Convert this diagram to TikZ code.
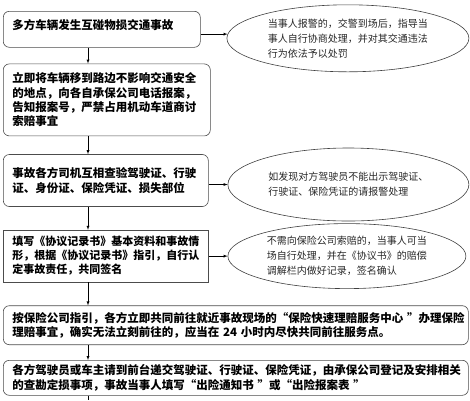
\documentclass[tikz,border=0pt]{standalone}
\usepackage{fontspec}
\newfontfamily\cjk{Noto Sans CJK SC}
\usepackage{tikz}
\usetikzlibrary{positioning,shapes.geometric}
\usetikzlibrary{arrows.meta}

\begin{document}
\begin{tikzpicture}[
	stepbox/.style = {draw = black!70, line width = 0.6pt, rounded corners = 6pt, align = left,
		inner xsep = 9pt, inner ysep = 4pt, anchor = north west,
		font = \cjk\bfseries\fontsize{11.5}{14.3}\selectfont},
	notebox/.style = {draw = black!75, line width = 0.6pt, ellipse, align = left, inner sep = 0pt,
		text width = 160pt, text = black!85, font = \cjk\fontsize{10}{15}\selectfont},
	]
	\useasboundingbox (0,0) rectangle (470pt,-400pt);
	\coordinate (spine) at (88pt,0);
	\coordinate (exit) at (88pt,-400pt);

	% left column
	\node[stepbox, text width = 179pt, minimum height = 36pt, text depth = 10pt] (b1) at (3pt,-11pt)
		{多方车辆发生互碰物损交通事故};
	\node[stepbox, below = 16pt of b1.south west, anchor = north west, text width = 189pt, minimum height = 72pt] (b2)
		{立即将车辆移到路边不影响交通安全\\的地点，向各自承保公司电话报案，\\告知报案号，严禁占用机动车道商讨\\索赔事宜};
	\node[stepbox, below = 18pt of b2.south west, anchor = north west, text width = 187pt, minimum height = 52pt] (b3)
		{事故各方司机互相查验驾驶证、行驶\\证、身份证、保险凭证、损失部位};
	\node[stepbox, sharp corners, below = 23pt of b3.south west, anchor = north west, text width = 187pt, minimum height = 52pt,
		font = \cjk\bfseries\fontsize{11}{14}\selectfont] (b4)
		{填写《协议记录书》基本资料和事故情\\形，根据《协议记录书》指引，自行认\\定事故责任，共同签名};
	\node[stepbox, below = 23pt of b4.south west, anchor = north west, text width = 447pt, minimum height = 39pt] (b5)
		{按保险公司指引，各方立即共同前往就近事故现场的“保险快速理赔服务中心~”办理保险\\理赔事宜，确实无法立刻前往的，应当在~24~小时内尽快共同前往服务点。};
	\node[stepbox, below = 15pt of b5.south west, anchor = north west, text width = 447pt, minimum height = 35pt] (b6)
		{各方驾驶员或车主请到前台递交驾驶证、行驶证、保险凭证，由承保公司登记及安排相关\\的查勘定损事项，事故当事人填写“出险通知书~”或“出险报案表~”};

	% right column
	\node[notebox, right = 26pt of b1.east, yshift = -9pt, minimum width = 242pt, minimum height = 67pt] (e1)
		{当事人报警的，交警到场后，指导当\\事人自行协商处理，并对其交通违法\\行为依法予以处罚};
	\node[notebox, right = 19pt of b3.east, yshift = -4pt, minimum width = 241pt, minimum height = 73pt] (e2)
		{如发现对方驾驶员不能出示驾驶证、\\行驶证、保险凭证的请报警处理};
	\node[notebox, right = 19pt of b4.east, minimum width = 238pt, minimum height = 65pt] (e3)
		{不需向保险公司索赔的，当事人可当\\场自行处理，并在《协议书》的赔偿\\调解栏内做好记录，签名确认};

	\draw [-latex] (b1.south -| spine) -- (b2.north -| spine);
	\draw [-latex] (b2.south -| spine) -- (b3.north -| spine);
	\draw [-latex] (b3.south -| spine) -- (b4.north -| spine);
	\draw [-latex] (b4.south -| spine) -- (b5.north -| spine);
	\draw [-latex] (b5.south -| spine) -- (b6.north -| spine);
	\draw (b6.south -| spine) -- (exit);
	\draw [-latex] (b1.east |- e1.178) -- (e1.178);
	\draw [-latex] (b3.east |- e2.west) -- (e2.west);
	\draw [-latex] (b4.east) -- (e3.west);

\end{tikzpicture}
\end{document}
